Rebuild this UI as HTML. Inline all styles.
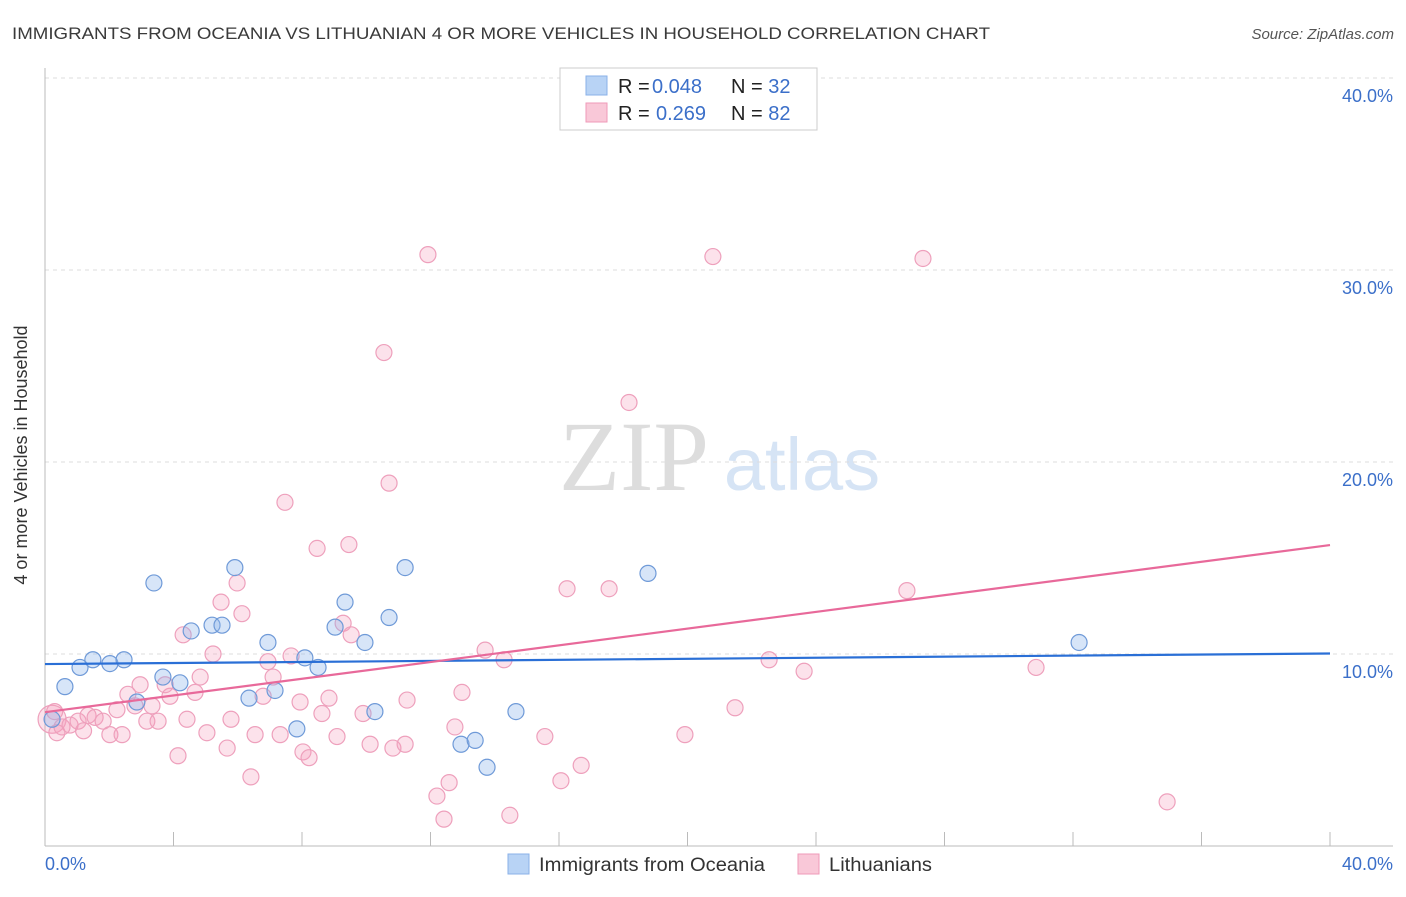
<!DOCTYPE html>
<html><head><meta charset="utf-8"><style>
body{margin:0;background:#fff;font-family:"Liberation Sans",sans-serif;}
</style></head><body>
<svg id="c" width="1406" height="892" xmlns="http://www.w3.org/2000/svg">
<text x="12" y="39" font-size="17" fill="#3a3a3a" textLength="978" lengthAdjust="spacingAndGlyphs">IMMIGRANTS FROM OCEANIA VS LITHUANIAN 4 OR MORE VEHICLES IN HOUSEHOLD CORRELATION CHART</text>
<text x="1394" y="39" font-size="15" fill="#555" text-anchor="end" font-style="italic">Source: ZipAtlas.com</text>
<text x="634" y="490" font-size="100" fill="#ddd" font-family="Liberation Serif" text-anchor="middle">ZIP</text>
<text x="802" y="490" font-size="74" fill="#d6e4f5" text-anchor="middle">atlas</text>
<g id="grid"></g><g id="pts"></g><g id="lines"></g>
<text x="27" y="455" font-size="18" fill="#333" text-anchor="middle" transform="rotate(-90 27 455)">4 or more Vehicles in Household</text>
<text x="45" y="870" font-size="18" fill="#3b6fc9">0.0%</text>
<text x="1393" y="870" font-size="18" fill="#3b6fc9" text-anchor="end">40.0%</text>
<g>
<rect x="560" y="68" width="257" height="62" fill="#fff" stroke="#ccc"/>
<rect x="586" y="76" width="21" height="19" fill="#b8d3f5" stroke="#8ab0e8"/>
<rect x="586" y="103" width="21" height="19" fill="#f9c8d8" stroke="#ef9ab8"/>
<text x="618" y="93" font-size="20" fill="#222">R = <tspan x="652" fill="#3b6fc9">0.048</tspan><tspan x="731">N = </tspan><tspan fill="#3b6fc9">32</tspan></text>
<text x="618" y="120" font-size="20" fill="#222">R = <tspan x="656" fill="#3b6fc9">0.269</tspan><tspan x="731">N = </tspan><tspan fill="#3b6fc9">82</tspan></text>
</g>
<g>
<rect x="508" y="854" width="21" height="20" fill="#b8d3f5" stroke="#8ab0e8"/>
<text x="539" y="871" font-size="19" fill="#333" textLength="226" lengthAdjust="spacingAndGlyphs">Immigrants from Oceania</text>
<rect x="798" y="854" width="21" height="20" fill="#f9c8d8" stroke="#ef9ab8"/>
<text x="829" y="871" font-size="19" fill="#333" textLength="103" lengthAdjust="spacingAndGlyphs">Lithuanians</text>
</g>
</svg>
<script>
const blueX=[0.62,1.09,1.49,2.02,2.46,3.39,2.86,3.67,4.2,4.55,5.2,5.51,5.91,6.35,6.94,7.16,7.84,8.09,8.5,9.03,9.34,9.96,10.27,10.71,11.21,12.95,13.39,13.76,14.66,18.77,32.19,0.22];
const blueY=[8.3,9.3,9.7,9.5,9.7,13.7,7.5,8.8,8.5,11.2,11.5,11.5,14.5,7.7,10.6,8.1,6.1,9.8,9.3,11.4,12.7,10.6,7.0,11.9,14.5,5.3,5.5,4.1,7.0,14.2,10.6,6.6];
const pinkX=[0.22,0.37,0.53,0.78,1.03,1.34,1.56,1.81,2.02,2.24,2.4,2.58,2.8,2.96,3.17,3.33,3.52,3.74,3.89,4.14,4.3,4.42,4.67,4.83,5.04,5.23,5.48,5.67,5.79,5.98,6.13,6.41,6.54,6.79,6.94,7.1,7.32,7.47,7.66,7.94,8.03,8.22,8.47,8.62,8.84,9.09,9.28,9.46,9.53,9.9,10.12,10.55,10.71,10.83,11.21,11.27,11.92,12.2,12.42,12.58,12.76,12.98,13.7,14.29,14.47,15.56,16.06,16.25,16.69,17.56,18.18,19.92,20.79,21.48,22.54,23.63,26.83,27.33,30.85,34.93,0.3,1.2];
const pinkY=[6.6,5.9,6.2,6.3,6.5,6.8,6.7,6.5,5.8,7.1,5.8,7.9,7.3,8.4,6.5,7.3,6.5,8.4,7.8,4.7,11.0,6.6,8.0,8.8,5.9,10.0,12.7,5.1,6.6,13.7,12.1,3.6,5.8,7.8,9.6,8.8,5.8,17.9,9.9,7.5,4.9,4.6,15.5,6.9,7.7,5.7,11.6,15.7,11.0,6.9,5.3,25.7,18.9,5.1,5.3,7.6,30.8,2.6,1.4,3.3,6.2,8.0,10.2,9.7,1.6,5.7,3.4,13.4,4.2,13.4,23.1,5.8,30.7,7.2,9.7,9.1,13.3,30.6,9.3,2.3,7.0,6.0];
const ticksY=[10,20,30,40];
const X0=45,X1=1330,Y0=846,PY=19.2;
const sx=v=>X0+(X1-X0)*v/40, sy=v=>Y0-v*PY;
const NS="http://www.w3.org/2000/svg";
function mk(t,a,p){const e=document.createElementNS(NS,t);for(const k in a)e.setAttribute(k,a[k]);p.appendChild(e);return e;}
const g=document.getElementById('grid');
ticksY.forEach(t=>{
 const l=mk('line',{x1:X0,x2:1393,y1:sy(t),y2:sy(t),stroke:'#ddd','stroke-dasharray':'4,4'},g);
 
 
 const tx=mk('text',{x:1393,y:sy(t)+24,'font-size':18,fill:'#3b6fc9','text-anchor':'end'},g);
 tx.textContent=t.toFixed(1)+'%';
 
 
});
const ax=mk('line',{x1:X0,x2:X0,y1:68,y2:Y0,stroke:'#bbb'},g);


const bx=mk('line',{x1:X0,x2:1393,y1:Y0,y2:Y0,stroke:'#bbb'},g);


for(let i=0;i<=10;i++){
 const t=mk('line',{x1:sx(i*4),x2:sx(i*4),y1:Y0-14,y2:Y0,stroke:'#bbb'},g);
 
 
}
const p=document.getElementById('pts');
pinkX.forEach((x,i)=>{
 const c=mk('circle',{cx:sx(x),cy:sy(pinkY[i]),r:i==0?14:8,fill:'rgba(244,160,190,0.3)',stroke:'#eea0bc','stroke-width':1.2},p);
 
 
});
blueX.forEach((x,i)=>{
 const c=mk('circle',{cx:sx(x),cy:sy(blueY[i]),r:8,fill:'rgba(140,180,235,0.35)',stroke:'#6f9ad8','stroke-width':1.2},p);
 
 
});
function fit(xs,ys){const n=xs.length;let mx=0,my=0;xs.forEach((v,i)=>{mx+=v;my+=ys[i]});mx/=n;my/=n;let a=0,b=0;xs.forEach((v,i)=>{a+=(v-mx)*(ys[i]-my);b+=(v-mx)*(v-mx)});const s=a/b;return[my-s*mx,s];}
const L=document.getElementById('lines');
[[blueX,blueY,'#2a6fd6','oceania-trendline'],[pinkX,pinkY,'#e8699a','lithuanians-trendline']].forEach(([xs,ys,col,nm])=>{
 const [b0,b1]=fit(xs,ys);
 const l=mk('line',{x1:sx(0),y1:sy(b0),x2:sx(40),y2:sy(b0+b1*40),stroke:col,'stroke-width':2.2},L);
 
 
});
</script>
</body></html>
